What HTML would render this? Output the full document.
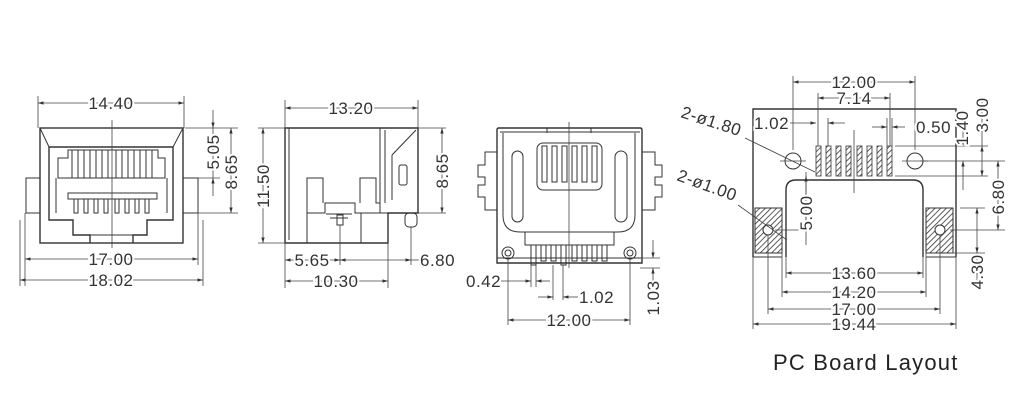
<!DOCTYPE html>
<html><head><meta charset="utf-8"><style>
html,body{margin:0;padding:0;background:#fff;width:1019px;height:415px;overflow:hidden}
svg{display:block}
text{font-family:"Liberation Sans",sans-serif;font-size:17px;letter-spacing:0.5px;fill:#333;paint-order:stroke;stroke:#fff;stroke-width:4px}
.l{stroke:#333;stroke-width:1;fill:none}
.t{stroke:#333;stroke-width:1.4;fill:none}
.d{stroke:#444;stroke-width:0.8;fill:none}
</style></head><body>
<svg width="1019" height="415" viewBox="0 0 1019 415" xmlns="http://www.w3.org/2000/svg">
<defs>
<marker id="a" viewBox="0 0 10 10" refX="10" refY="5" markerWidth="7" markerHeight="7" orient="auto-start-reverse"><path d="M0,2 L10,5 L0,8 z" fill="#333"/></marker>
<pattern id="h" width="4" height="4" patternUnits="userSpaceOnUse" patternTransform="rotate(45)"><line x1="0" y1="0" x2="0" y2="4" stroke="#333" stroke-width="1.6"/></pattern>
</defs>

<!-- ===== VIEW 1 FRONT ===== -->
<g>
<rect class="t" x="40" y="128" width="143" height="115"/>
<line class="l" x1="40" y1="128" x2="49" y2="147"/><line class="l" x1="183" y1="128" x2="173" y2="147"/>
<path class="t" d="M49,147 H173 V220 H147 V235 H133 V243 M49,147 V220 H73 V235 H90 V243"/>
<line class="l" x1="90" y1="235" x2="133" y2="235"/>
<rect class="l" x="26" y="178" width="14" height="35"/><rect class="l" x="183" y="178" width="15" height="35"/>
<path class="l" d="M58,158 H68 V150 H158 V158 H165 V178 H58 z"/>
<g class="l">
<line x1="72" y1="150" x2="72" y2="178"/><line x1="78" y1="150" x2="78" y2="178"/><line x1="84" y1="150" x2="84" y2="178"/><line x1="90" y1="150" x2="90" y2="178"/><line x1="96" y1="150" x2="96" y2="178"/><line x1="102" y1="150" x2="102" y2="178"/><line x1="108" y1="150" x2="108" y2="178"/><line x1="116" y1="150" x2="116" y2="178"/><line x1="122" y1="150" x2="122" y2="178"/><line x1="128" y1="150" x2="128" y2="178"/><line x1="134" y1="150" x2="134" y2="178"/><line x1="140" y1="150" x2="140" y2="178"/><line x1="146" y1="150" x2="146" y2="178"/><line x1="152" y1="150" x2="152" y2="178"/>
</g>
<rect class="l" x="68" y="193" width="89" height="6"/>
<g class="l">
<rect x="74" y="199" width="4" height="14"/><rect x="84" y="199" width="4" height="14"/><rect x="94" y="199" width="4" height="14"/><rect x="104" y="199" width="4" height="14"/><rect x="115" y="199" width="4" height="14"/><rect x="125" y="199" width="4" height="14"/><rect x="135" y="199" width="4" height="14"/><rect x="145" y="199" width="4" height="14"/>
</g>
<line class="l" x1="56" y1="178" x2="56" y2="213"/><line class="l" x1="167" y1="178" x2="167" y2="213"/>
<line class="d" x1="112" y1="120" x2="112" y2="248"/>
<line class="d" x1="38" y1="96" x2="38" y2="128"/><line class="d" x1="184" y1="96" x2="184" y2="128"/>
<line class="d" x1="38" y1="103" x2="184" y2="103" marker-start="url(#a)" marker-end="url(#a)"/>
<text x="111" y="109" text-anchor="middle">14.40</text>
<line class="d" x1="25" y1="213" x2="25" y2="286"/><line class="d" x1="198" y1="213" x2="198" y2="265"/>
<line class="d" x1="20" y1="220" x2="20" y2="286"/><line class="d" x1="203" y1="220" x2="203" y2="286"/>
<line class="d" x1="25" y1="259" x2="198" y2="259" marker-start="url(#a)" marker-end="url(#a)"/>
<text x="111" y="265" text-anchor="middle">17.00</text>
<line class="d" x1="20" y1="280" x2="203" y2="280" marker-start="url(#a)" marker-end="url(#a)"/>
<text x="111" y="286" text-anchor="middle">18.02</text>
<line class="d" x1="185" y1="128" x2="238" y2="128"/><line class="d" x1="198" y1="178" x2="220" y2="178"/><line class="d" x1="198" y1="213" x2="238" y2="213"/>
<line class="d" x1="213" y1="110" x2="213" y2="128" marker-end="url(#a)"/><line class="d" x1="213" y1="196" x2="213" y2="178" marker-end="url(#a)"/>
<line class="d" x1="213" y1="128" x2="213" y2="178"/>
<text transform="translate(219,152) rotate(-90)" text-anchor="middle">5.05</text>
<line class="d" x1="231" y1="128" x2="231" y2="213" marker-start="url(#a)" marker-end="url(#a)"/>
<text transform="translate(237,172) rotate(-90)" text-anchor="middle">8.65</text>
</g>

<!-- ===== VIEW 2 SIDE ===== -->
<g>
<path class="t" d="M285,128 H418 V213 H388 V243 H285 z"/>
<line class="l" x1="289" y1="128" x2="289" y2="240"/>
<rect class="l" x="380" y="128" width="38" height="85"/>
<line class="l" x1="385" y1="130" x2="385" y2="203"/>
<line class="l" x1="392" y1="155" x2="416" y2="130"/><line class="l" x1="392" y1="155" x2="392" y2="200"/>
<rect class="l" x="399" y="165" width="8" height="20" rx="2"/>
<path class="l" d="M307,243 V178 H323 V203 M360,203 V178 H376 V203 H380"/>
<path class="l" d="M307,213 H325 V203 H355 V213 H388"/>
<path class="l" d="M326,214 H352 M330,218 H348"/>
<rect class="l" x="337" y="215" width="6" height="10"/>
<rect class="l" x="405" y="213" width="12" height="14" rx="4"/>
<line class="l" x1="361" y1="213" x2="361" y2="243"/>
<line class="d" x1="285" y1="100" x2="285" y2="128"/><line class="d" x1="418" y1="100" x2="418" y2="128"/>
<line class="d" x1="285" y1="108" x2="418" y2="108" marker-start="url(#a)" marker-end="url(#a)"/>
<text x="351" y="114" text-anchor="middle">13.20</text>
<line class="d" x1="258" y1="128" x2="285" y2="128"/><line class="d" x1="258" y1="243" x2="285" y2="243"/>
<line class="d" x1="263" y1="128" x2="263" y2="243" marker-start="url(#a)" marker-end="url(#a)"/>
<text transform="translate(269,186) rotate(-90)" text-anchor="middle">11.50</text>
<line class="d" x1="418" y1="128" x2="446" y2="128"/><line class="d" x1="418" y1="213" x2="446" y2="213"/>
<line class="d" x1="442" y1="128" x2="442" y2="213" marker-start="url(#a)" marker-end="url(#a)"/>
<text transform="translate(448,171) rotate(-90)" text-anchor="middle">8.65</text>
<line class="d" x1="285" y1="243" x2="285" y2="288"/><line class="d" x1="340" y1="225" x2="340" y2="265"/><line class="d" x1="388" y1="243" x2="388" y2="288"/><line class="d" x1="411" y1="227" x2="411" y2="265"/>
<line class="d" x1="285" y1="260" x2="340" y2="260" marker-start="url(#a)" marker-end="url(#a)"/>
<text x="312" y="266" text-anchor="middle">5.65</text>
<line class="d" x1="340" y1="260" x2="411" y2="260" marker-start="url(#a)" marker-end="url(#a)"/>
<line class="d" x1="411" y1="260" x2="425" y2="260"/>
<text x="420" y="266">6.80</text>
<line class="d" x1="285" y1="281" x2="388" y2="281" marker-start="url(#a)" marker-end="url(#a)"/>
<text x="336" y="287" text-anchor="middle">10.30</text>
</g>

<!-- ===== VIEW 3 BACK ===== -->
<g>
<path class="t" d="M497,263 V130 Q497,128 499,128 H640 Q642,128 642,130 V263 z"/>
<line class="l" x1="500" y1="132" x2="640" y2="132"/>
<path class="l" d="M547,128 V133 M591,128 V133"/>
<path class="l" d="M503,133 V215 Q503,232 520,232 H618 Q635,232 635,215 V133"/>
<rect class="l" x="537" y="143" width="65" height="47" rx="6"/>
<g class="l"><rect x="542" y="146" width="5" height="36"/><rect x="552" y="146" width="5" height="36"/><rect x="562" y="146" width="5" height="36"/><rect x="572" y="146" width="5" height="36"/><rect x="582" y="146" width="5" height="36"/><rect x="592" y="146" width="5" height="36"/></g>
<rect class="l" x="512" y="151" width="11" height="71" rx="5.5"/><rect class="l" x="615" y="151" width="12" height="71" rx="6"/>
<path class="l" d="M497,152 H485 V165 H478 V177 H485 V185 H478 V197 H485 V210 H497"/>
<path class="l" d="M642,152 H655 V165 H662 V177 H655 V185 H662 V197 H655 V210 H642"/>
<line class="l" x1="497" y1="258" x2="642" y2="258"/>
<path class="l" d="M525,232 V245 H614 V232"/>
<g class="l"><rect x="531" y="245" width="5" height="20"/><rect x="541" y="245" width="5" height="16"/><rect x="551" y="245" width="5" height="16"/><rect x="561" y="245" width="5" height="20"/><rect x="572" y="245" width="5" height="16"/><rect x="582" y="245" width="5" height="16"/><rect x="592" y="245" width="5" height="16"/><rect x="602" y="245" width="5" height="16"/></g>
<circle class="l" cx="508" cy="253" r="6"/><circle class="l" cx="508" cy="253" r="3"/>
<circle class="l" cx="630" cy="253" r="6"/><circle class="l" cx="630" cy="253" r="3"/>
<line class="d" x1="569" y1="122" x2="569" y2="268"/>
<line class="d" x1="508" y1="259" x2="508" y2="325"/><line class="d" x1="630" y1="259" x2="630" y2="325"/>
<line class="d" x1="508" y1="320" x2="630" y2="320" marker-start="url(#a)" marker-end="url(#a)"/>
<text x="569" y="326" text-anchor="middle">12.00</text>
<line class="d" x1="531" y1="265" x2="531" y2="287"/><line class="d" x1="536" y1="265" x2="536" y2="287"/>
<line class="d" x1="500" y1="281" x2="531" y2="281" marker-end="url(#a)"/><line class="d" x1="550" y1="281" x2="536" y2="281" marker-end="url(#a)"/>
<text x="466" y="287">0.42</text>
<line class="d" x1="553" y1="265" x2="553" y2="300"/><line class="d" x1="563" y1="265" x2="563" y2="300"/>
<line class="d" x1="538" y1="297" x2="553" y2="297" marker-end="url(#a)"/><line class="d" x1="578" y1="297" x2="563" y2="297" marker-end="url(#a)"/>
<text x="579" y="303">1.02</text>
<line class="d" x1="640" y1="258" x2="660" y2="258"/><line class="d" x1="640" y1="268" x2="660" y2="268"/>
<line class="d" x1="653" y1="240" x2="653" y2="258" marker-end="url(#a)"/><line class="d" x1="653" y1="285" x2="653" y2="268" marker-end="url(#a)"/>
<text transform="translate(659,298) rotate(-90)" text-anchor="middle">1.03</text>
</g>

<!-- ===== VIEW 4 PCB ===== -->
<g>
<path class="t" d="M753,257 V109 H956 V257 M786,257 V190 Q786,180 796,180 H913 Q923,180 923,190 V257"/>
<line class="l" x1="753" y1="257" x2="782" y2="257"/><line class="l" x1="926" y1="257" x2="956" y2="257"/>
<rect x="755" y="208" width="27" height="45" fill="url(#h)" stroke="#333"/>
<rect x="926" y="208" width="27" height="45" fill="url(#h)" stroke="#333"/>
<circle cx="768" cy="230" r="5" fill="#fff" stroke="#333"/><circle cx="940" cy="230" r="5" fill="#fff" stroke="#333"/>
<circle class="l" cx="793" cy="161" r="8"/><circle class="l" cx="915" cy="161" r="8"/>
<g fill="url(#h)" stroke="#333" stroke-width="0.8">
<rect x="816" y="146" width="5" height="30"/><rect x="826" y="146" width="5" height="30"/><rect x="836" y="146" width="5" height="30"/><rect x="846" y="146" width="5" height="30"/><rect x="857" y="146" width="5" height="30"/><rect x="867" y="146" width="5" height="30"/><rect x="877" y="146" width="5" height="30"/><rect x="887" y="146" width="5" height="30"/>
</g>
<line class="d" x1="854" y1="130" x2="854" y2="193"/>
<line class="d" x1="780" y1="161" x2="806" y2="161"/><line class="d" x1="902" y1="161" x2="928" y2="161"/>
<line class="d" x1="793" y1="76" x2="793" y2="150"/><line class="d" x1="915" y1="76" x2="915" y2="150"/>
<line class="d" x1="793" y1="82" x2="915" y2="82" marker-start="url(#a)" marker-end="url(#a)"/>
<text x="854" y="88" text-anchor="middle">12.00</text>
<line class="d" x1="818" y1="93" x2="818" y2="146"/><line class="d" x1="890" y1="93" x2="890" y2="146"/>
<line class="d" x1="818" y1="98" x2="890" y2="98" marker-start="url(#a)" marker-end="url(#a)"/>
<text x="854" y="104" text-anchor="middle">7.14</text>
<line class="d" x1="828" y1="118" x2="828" y2="146"/>
<line class="d" x1="790" y1="123" x2="816" y2="123" marker-end="url(#a)"/><line class="d" x1="845" y1="123" x2="828" y2="123" marker-end="url(#a)"/>
<text x="754" y="129">1.02</text>
<line class="d" x1="887" y1="118" x2="887" y2="146"/><line class="d" x1="892" y1="118" x2="892" y2="146"/>
<line class="d" x1="872" y1="127" x2="887" y2="127" marker-end="url(#a)"/><line class="d" x1="905" y1="127" x2="892" y2="127" marker-end="url(#a)"/>
<text x="916" y="133">0.50</text>
<text transform="translate(680,117) rotate(18)">2-ø1.80</text>
<line class="d" x1="745" y1="138" x2="815" y2="172"/>
<text transform="translate(676,180) rotate(20)">2-ø1.00</text>
<line class="d" x1="738" y1="205" x2="787" y2="240"/>
<line class="d" x1="806" y1="172" x2="806" y2="245"/>
<line class="d" x1="806" y1="200" x2="806" y2="176" marker-end="url(#a)"/>
<line class="d" x1="806" y1="215" x2="806" y2="230" marker-end="url(#a)"/>
<line class="d" x1="775" y1="230" x2="812" y2="230"/>
<text transform="translate(812,213) rotate(-90)" text-anchor="middle">5.00</text>
<line class="d" x1="895" y1="146" x2="988" y2="146"/><line class="d" x1="895" y1="176" x2="988" y2="176"/>
<line class="d" x1="920" y1="161" x2="1005" y2="161"/>
<line class="d" x1="960" y1="208" x2="985" y2="208"/><line class="d" x1="950" y1="230" x2="1005" y2="230"/><line class="d" x1="950" y1="253" x2="985" y2="253"/>
<line class="d" x1="963" y1="130" x2="963" y2="146" marker-end="url(#a)"/><line class="d" x1="963" y1="190" x2="963" y2="161" marker-end="url(#a)"/>
<text transform="translate(968,128) rotate(-90)" text-anchor="middle">1.40</text>
<line class="d" x1="982" y1="146" x2="982" y2="176" marker-start="url(#a)" marker-end="url(#a)"/>
<line class="d" x1="982" y1="100" x2="982" y2="146"/>
<text transform="translate(988,115) rotate(-90)" text-anchor="middle">3.00</text>
<line class="d" x1="998" y1="161" x2="998" y2="230" marker-start="url(#a)" marker-end="url(#a)"/>
<text transform="translate(1004,197) rotate(-90)" text-anchor="middle">6.80</text>
<line class="d" x1="977" y1="208" x2="977" y2="253" marker-start="url(#a)" marker-end="url(#a)"/>
<line class="d" x1="977" y1="253" x2="977" y2="285"/>
<text transform="translate(983,272) rotate(-90)" text-anchor="middle">4.30</text>
<line class="d" x1="786" y1="257" x2="786" y2="278"/><line class="d" x1="923" y1="257" x2="923" y2="278"/>
<line class="d" x1="782" y1="253" x2="782" y2="297"/><line class="d" x1="926" y1="253" x2="926" y2="297"/>
<line class="d" x1="768" y1="235" x2="768" y2="314"/><line class="d" x1="940" y1="235" x2="940" y2="314"/>
<line class="d" x1="753" y1="257" x2="753" y2="329"/><line class="d" x1="956" y1="257" x2="956" y2="329"/>
<line class="d" x1="786" y1="273" x2="923" y2="273" marker-start="url(#a)" marker-end="url(#a)"/>
<text x="854" y="279" text-anchor="middle">13.60</text>
<line class="d" x1="782" y1="292" x2="926" y2="292" marker-start="url(#a)" marker-end="url(#a)"/>
<text x="854" y="298" text-anchor="middle">14.20</text>
<line class="d" x1="768" y1="309" x2="940" y2="309" marker-start="url(#a)" marker-end="url(#a)"/>
<text x="854" y="315" text-anchor="middle">17.00</text>
<line class="d" x1="753" y1="324" x2="956" y2="324" marker-start="url(#a)" marker-end="url(#a)"/>
<text x="854" y="330" text-anchor="middle">19.44</text>
<text x="773" y="370" style="font-size:22px;letter-spacing:1.2px;stroke:none;fill:#222">PC Board Layout</text>
</g>
</svg>
</body></html>
